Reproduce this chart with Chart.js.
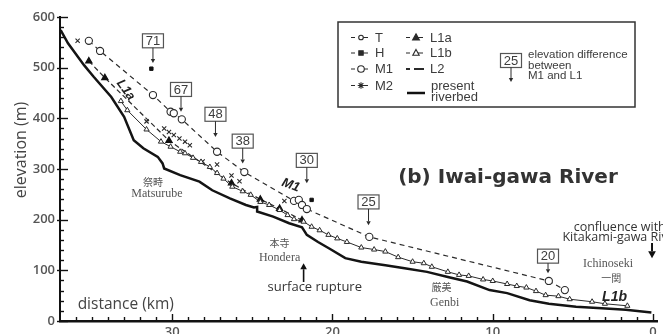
<!DOCTYPE html>
<html>
<head>
<meta charset="utf-8">
<script src="https://cdn.jsdelivr.net/npm/chart.js@4.4.1/dist/chart.umd.min.js"></script>
<style>
    html, body { margin: 0; padding: 0; background: #fff; }
    canvas { display: block; }
</style>
</head>
<body>
<canvas id="profile" width="663" height="334"></canvas>
<script>
// distance upstream (km) / elevation (m)
const riverKm = [36.96, 36.5, 35.5, 34.9, 33.8, 33.0, 32.4, 31.8, 30.9, 30.6, 30.5, 29.5, 28.3, 27.5, 26.4, 25.4, 24.9, 24.7, 24.7, 23.7, 22.7, 21.9, 21.6, 20.9, 20.2, 19.2, 18.2, 16.7, 15.5, 14.1, 12.8, 11.6, 10.2, 9.1, 7.7, 6.5, 4.8, 3.2, 1.7, 0.1];
const riverElev = [574, 548, 505, 482, 442, 403, 357, 341, 324, 311, 301, 288, 275, 258, 242, 229, 224, 225, 216, 206, 193, 185, 170, 156, 143, 124, 117, 110, 104, 97, 87, 78, 61, 55, 41, 34, 28, 25, 22, 17];

const m1Km = [35.2, 34.5, 31.2, 30.1, 29.9, 29.4, 27.2, 25.5, 22.4, 22.1, 21.9, 21.6, 17.7, 6.5, 5.5];
const m1Elev = [553, 533, 446, 413, 410, 398, 334, 294, 237, 239, 229, 221, 166, 79, 61];

const m2Km = [35.9, 31.6, 30.5, 30.2, 29.9, 29.55, 29.2, 28.9, 28.1, 27.2, 26.3, 25.8, 23.0];
const m2Elev = [553, 394, 380, 373, 367, 360, 354, 347, 315, 309, 287, 276, 237];

const hKm = [31.3, 21.3];
const hElev = [498, 239];

const l1aKm = [35.2, 34.2, 30.2, 26.3, 24.5, 23.3, 21.9];
const l1aElev = [513, 480, 356, 272, 240, 222, 199];

const l1bKm = [33.2, 32.8, 31.6, 30.7, 30.1, 29.5, 29.2, 28.7, 28.2, 27.65, 27.2, 26.8, 26.25, 25.6, 25.1, 24.5, 23.95, 23.3, 22.8, 22.4, 21.8, 21.3, 20.8, 20.25, 19.7, 19.1, 18.2, 17.4, 16.7, 15.9, 15.0, 14.3, 13.8, 12.8, 12.1, 11.5, 10.6, 10.0, 9.1, 8.5, 7.9, 7.3, 6.7, 5.9, 5.2, 3.8, 3.0, 1.6];
const l1bElev = [434, 416, 378, 354, 344, 334, 331, 322, 314, 304, 292, 281, 265, 256, 249, 235, 229, 219, 209, 201, 196, 186, 179, 170, 163, 156, 145, 141, 137, 126, 117, 114, 107, 97, 91, 89, 82, 79, 73, 69, 66, 59, 51, 49, 43, 38, 34, 30];

// elevation difference between M1 and L1 (boxed numbers)
const diffText = ["71", "67", "48", "38", "30", "25", "20"];
const diffKm = [31.2, 29.45, 27.3, 25.6, 21.6, 17.75, 6.55];
const diffBoxElev = [553, 457, 408, 355, 317, 235, 128];
const diffTipElev = [509, 413, 363, 311, 272, 189, 94];

// place names
const placeText = ["祭畤", "Matsurube", "本寺", "Hondera", "厳美", "Genbi", "Ichinoseki", "一関"];
const placeKm = [31.2, 30.95, 23.3, 23.3, 13.2, 13.0, 2.8, 2.6];
const placeElev = [274, 250, 153, 125, 66, 35, 112, 85];

const xTicks = [0, 10, 20, 30];
const yTicks = [0, 100, 200, 300, 400, 500, 600];

const INK = "#2a2a2a";
const TXT = "#3c3c3c";

const pts = (xs, ys) => xs.map((x, i) => ({ x, y: ys[i] }));

// simple marker drawing for the legend
function marker(ctx, style, x, y, r, filled) {
    ctx.save();
    ctx.lineWidth = 1.1;
    ctx.strokeStyle = INK;
    ctx.fillStyle = filled ? INK : "#fff";
    ctx.beginPath();
    if (style === "circle") {
        ctx.arc(x, y, r, 0, Math.PI * 2);
        ctx.fill(); ctx.stroke();
    } else if (style === "rect") {
        ctx.rect(x - r, y - r, 2 * r, 2 * r);
        ctx.fill(); ctx.stroke();
    } else if (style === "triangle") {
        ctx.moveTo(x, y - r * 1.1);
        ctx.lineTo(x + r, y + r * 0.7);
        ctx.lineTo(x - r, y + r * 0.7);
        ctx.closePath();
        ctx.fill(); ctx.stroke();
    } else if (style === "star") {
        for (let a = 0; a < 4; a++) {
            const ang = a * Math.PI / 4;
            ctx.moveTo(x - Math.cos(ang) * r, y - Math.sin(ang) * r);
            ctx.lineTo(x + Math.cos(ang) * r, y + Math.sin(ang) * r);
        }
        ctx.stroke();
    }
    ctx.restore();
}

function arrowV(ctx, x, yFrom, yTo, head, lw) {
    const dir = Math.sign(yTo - yFrom);
    ctx.save();
    ctx.lineWidth = lw;
    ctx.beginPath();
    ctx.moveTo(x, yFrom);
    ctx.lineTo(x, yTo - dir * head);
    ctx.stroke();
    ctx.beginPath();
    ctx.moveTo(x, yTo);
    ctx.lineTo(x - head * 0.55, yTo - dir * head);
    ctx.lineTo(x + head * 0.55, yTo - dir * head);
    ctx.closePath();
    ctx.fill();
    ctx.restore();
}

function numBox(ctx, label, cx, cy, tipY) {
    const w = 21, h = 14;
    ctx.save();
    ctx.fillStyle = "#fff";
    ctx.fillRect(cx - w / 2, cy - h / 2, w, h);
    ctx.strokeStyle = "#555";
    ctx.lineWidth = 1.2;
    ctx.strokeRect(cx - w / 2, cy - h / 2, w, h);
    ctx.fillStyle = TXT;
    ctx.font = "13px 'Liberation Sans'";
    ctx.textAlign = "center";
    ctx.textBaseline = "middle";
    ctx.fillText(label, cx, cy + 0.5);
    ctx.strokeStyle = INK;
    ctx.fillStyle = INK;
    arrowV(ctx, cx, cy + h / 2, tipY, 4, 1);
    ctx.restore();
}

// minor ticks pointing into the plot
const axisTicks = {
    id: "axisTicks",
    afterDraw(chart) {
        const { ctx, chartArea, scales: { x, y } } = chart;
        ctx.save();
        ctx.strokeStyle = "#111";
        ctx.lineWidth = 1.4;
        for (let v = 0; v <= 600; v += 20) {
            const py = Math.round(y.getPixelForValue(v)) + 0.5;
            const major = v % 100 === 0;
            ctx.beginPath();
            ctx.moveTo(chartArea.left - (major ? 3 : 0), py);
            ctx.lineTo(chartArea.left + (major ? 8 : 4), py);
            ctx.stroke();
        }
        for (let d = 0; d <= 36; d++) {
            const px = Math.round(x.getPixelForValue(d)) + 0.5;
            const major = d % 10 === 0;
            ctx.beginPath();
            ctx.moveTo(px, chartArea.bottom);
            ctx.lineTo(px, chartArea.bottom - (major ? 7 : 4));
            ctx.stroke();
        }
        ctx.restore();
    }
};

const annotations = {
    id: "annotations",
    afterDatasetsDraw(chart) {
        const { ctx, scales: { x, y } } = chart;
        const X = v => x.getPixelForValue(v);
        const Y = v => y.getPixelForValue(v);
        ctx.save();

        // y title
        ctx.save();
        ctx.translate(21, 150);
        ctx.rotate(-Math.PI / 2);
        ctx.fillStyle = "#444";
        ctx.font = "16px 'Open Sans'";
        ctx.textAlign = "center";
        ctx.textBaseline = "middle";
        ctx.fillText("elevation (m)", 0, 0);
        ctx.restore();

        // boxed differences
        diffText.forEach((t, i) => numBox(ctx, t, X(diffKm[i]), Y(diffBoxElev[i]), Y(diffTipElev[i])));

        // place names
        ctx.fillStyle = "#555";
        ctx.textAlign = "center";
        ctx.textBaseline = "middle";
        placeText.forEach((t, i) => {
            const cjk = /[^\x00-\x7f]/.test(t);
            ctx.font = cjk ? "10px 'Noto Sans CJK JP'" : "12px 'Liberation Serif'";
            ctx.fillText(t, X(placeKm[i]), Y(placeElev[i]));
        });

        // terrace labels
        ctx.fillStyle = "#222";
        ctx.font = "italic bold 13px 'Liberation Sans'";
        ctx.save();
        ctx.translate(X(22.6), Y(268));
        ctx.rotate(0.35);
        ctx.fillText("M1", 0, 0);
        ctx.restore();
        ctx.save();
        ctx.translate(X(32.9), Y(456));
        ctx.rotate(0.95);
        ctx.fillText("L1a", 0, 0);
        ctx.restore();
        ctx.font = "italic bold 14px 'Liberation Sans'";
        ctx.fillText("L1b", X(2.4), Y(47));

        // title
        ctx.fillStyle = "#333";
        ctx.font = "bold 20px 'DejaVu Sans'";
        ctx.fillText("(b) Iwai-gawa River", X(9.05), Y(282));

        // axis caption
        ctx.fillStyle = "#444";
        ctx.textAlign = "left";
        ctx.font = "15.5px 'Open Sans'";
        ctx.fillText("distance (km)", X(35.9), Y(33));

        // surface rupture
        ctx.font = "13px 'Open Sans'";
        ctx.fillStyle = "#333";
        ctx.fillText("surface rupture", X(24.05), Y(67));
        ctx.strokeStyle = "#111";
        ctx.fillStyle = "#111";
        arrowV(ctx, X(21.8), Y(77), Y(114), 6, 1.6);

        // confluence
        ctx.fillStyle = "#333";
        ctx.font = "12.5px 'Open Sans'";
        ctx.fillText("confluence with", X(4.95), Y(184));
        ctx.fillText("Kitakami-gawa River", X(5.65), Y(164));
        ctx.fillStyle = "#111";
        arrowV(ctx, X(0.06), Y(154), Y(124), 7, 2);

        // legend box
        ctx.fillStyle = "#fff";
        ctx.fillRect(338, 22, 297, 85);
        ctx.strokeStyle = "#333";
        ctx.lineWidth = 1.5;
        ctx.strokeRect(338, 22, 297, 85);

        const legendRow = (x0, yy, style, r, filled, label, dashed) => {
            ctx.save();
            ctx.strokeStyle = INK;
            ctx.lineWidth = 1.2;
            ctx.beginPath();
            ctx.moveTo(x0, yy); ctx.lineTo(x0 + 4, yy);
            if (style) {
                ctx.moveTo(x0 + 10, yy); ctx.lineTo(x0 + 17, yy);
            } else {
                ctx.lineWidth = 1.8;
                ctx.moveTo(x0 + 8, yy); ctx.lineTo(x0 + 18, yy);
            }
            ctx.stroke();
            if (style) marker(ctx, style, x0 + 10, yy, r, filled);
            ctx.fillStyle = TXT;
            ctx.font = "13px 'Liberation Sans'";
            ctx.textAlign = "left";
            ctx.textBaseline = "middle";
            ctx.fillText(label, x0 + 24, yy + 0.5);
            ctx.restore();
        };
        legendRow(351, 37.5, "circle", 2.3, false, "T");
        legendRow(351, 53, "rect", 2.2, true, "H");
        legendRow(351, 69, "circle", 3.3, false, "M1");
        legendRow(351, 85.5, "star", 3.3, false, "M2");
        legendRow(406, 37.5, "triangle", 3.4, true, "L1a");
        legendRow(406, 53, "triangle", 3.2, false, "L1b");
        legendRow(406, 69, null, 0, false, "L2");

        ctx.strokeStyle = "#111";
        ctx.lineWidth = 2.5;
        ctx.beginPath();
        ctx.moveTo(407, 93); ctx.lineTo(425, 93);
        ctx.stroke();
        ctx.fillStyle = TXT;
        ctx.font = "13px 'Liberation Sans'";
        ctx.textBaseline = "middle";
        ctx.fillText("present", 431, 86);
        ctx.fillText("riverbed", 431, 97.5);

        numBox(ctx, "25", 511, 60.5, 82);
        ctx.fillStyle = TXT;
        ctx.textAlign = "left";
        ctx.font = "11.5px 'Liberation Sans'";
        ctx.fillText("elevation difference", 528, 55);
        ctx.fillText("between", 528, 65.5);
        ctx.fillText("M1 and L1", 528, 76);

        ctx.restore();
    }
};

new Chart(document.getElementById("profile"), {
    type: "scatter",
    data: {
        datasets: [
            {
                label: "present riverbed",
                data: pts(riverKm, riverElev),
                showLine: true,
                borderColor: "#141414",
                borderWidth: 2.5,
                pointRadius: 0
            },
            {
                label: "L1b",
                data: pts(l1bKm, l1bElev),
                showLine: true,
                borderColor: INK,
                borderWidth: 1,
                pointStyle: "triangle",
                pointRadius: 3,
                pointBorderWidth: 1,
                pointBorderColor: INK,
                pointBackgroundColor: "#fff"
            },
            {
                label: "L1a",
                data: pts(l1aKm, l1aElev),
                showLine: true,
                borderColor: INK,
                borderWidth: 1.2,
                borderDash: [5, 3],
                pointStyle: "triangle",
                pointRadius: 3.6,
                pointBorderColor: "#111",
                pointBackgroundColor: "#111"
            },
            {
                label: "M2",
                data: pts(m2Km, m2Elev),
                showLine: false,
                pointStyle: "crossRot",
                pointRadius: 3,
                pointBorderWidth: 1.1,
                pointBorderColor: INK
            },
            {
                label: "M1",
                data: pts(m1Km, m1Elev),
                showLine: true,
                borderColor: INK,
                borderWidth: 1.2,
                borderDash: [5, 4],
                pointStyle: "circle",
                pointRadius: 3.6,
                pointBorderWidth: 1.1,
                pointBorderColor: INK,
                pointBackgroundColor: "#fff"
            },
            {
                label: "H",
                data: pts(hKm, hElev),
                showLine: false,
                pointStyle: "rect",
                pointRadius: 2.4,
                pointBorderColor: "#111",
                pointBackgroundColor: "#111"
            }
        ]
    },
    options: {
        responsive: false,
        animation: false,
        devicePixelRatio: 1,
        layout: { padding: { top: 17, left: 0, right: 0, bottom: 0 } },
        plugins: {
            legend: { display: false },
            tooltip: { enabled: false }
        },
        scales: {
            x: {
                type: "linear",
                reverse: true,
                min: -0.3,
                max: 37,
                afterBuildTicks: s => { s.ticks = xTicks.map(v => ({ value: v })); },
                afterFit: s => { s.height = 13; s.paddingLeft = 0; s.paddingRight = 0; },
                grid: { display: false, drawTicks: false },
                border: { display: true, width: 2.5, color: "#111" },
                ticks: {
                    padding: 3,
                    maxRotation: 0,
                    color: "#555",
                    font: { family: "'Open Sans'", size: 13, weight: "600" }
                }
            },
            y: {
                min: 0,
                max: 600,
                afterBuildTicks: s => { s.ticks = yTicks.map(v => ({ value: v })); },
                afterFit: s => { s.width = 60; s.paddingTop = 0; s.paddingBottom = 0; },
                grid: { display: false, drawTicks: false },
                border: { display: true, width: 2, color: "#111" },
                ticks: {
                    padding: 5,
                    color: "#555",
                    font: { family: "'Open Sans'", size: 13, weight: "600" }
                }
            }
        }
    },
    plugins: [annotations, axisTicks]
});
</script>
</body>
</html>
